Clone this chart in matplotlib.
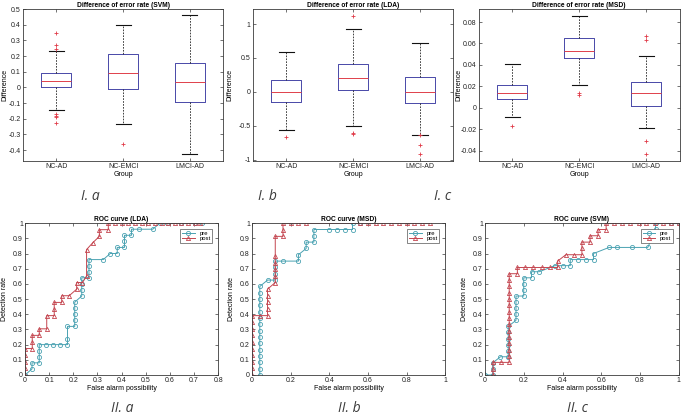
import matplotlib
matplotlib.use("Agg")
import matplotlib.pyplot as plt
import numpy as np
import matplotlib.ticker as mticker

plt.rcParams['font.family'] = ['Liberation Sans', 'DejaVu Sans']
plt.rcParams['axes.unicode_minus'] = False

groups = ["NC-AD", "NC-EMCI", "LMCI-AD"]

# box statistics
svm_q1 = [0.0, -0.01, -0.09]
svm_med = [0.04, 0.095, 0.035]
svm_q3 = [0.09, 0.215, 0.155]
svm_lo = [-0.145, -0.235, -0.425]
svm_hi = [0.235, 0.40, 0.46]
svm_fliers = [[0.35, 0.27, 0.245, -0.17, -0.18, -0.19, -0.23], [-0.36], []]

lda_q1 = [-0.15, 0.02, -0.16]
lda_med = [0.0, 0.21, 0.0]
lda_q3 = [0.175, 0.41, 0.22]
lda_lo = [-0.56, -0.51, -0.63]
lda_hi = [0.59, 0.93, 0.72]
lda_fliers = [[-0.66], [1.12, -0.60, -0.62], [-0.64, -0.78, -0.91]]

msd_q1 = [0.008, 0.046, 0.002]
msd_med = [0.014, 0.053, 0.014]
msd_q3 = [0.021, 0.065, 0.024]
msd_lo = [-0.009, 0.021, -0.019]
msd_hi = [0.041, 0.086, 0.048]
msd_fliers = [[-0.017], [0.014, 0.012], [0.067, 0.063, -0.031, -0.043]]

# ROC points
lda_pre_fpr = [0, .029, .029, .059, .059, .059, .059, .088, .118, .147, .176, .176, .176, .206, .206, .206, .206, .206,
               .235, .235, .235, .235, .265, .265, .265, .265, .324, .353, .382, .382, .412, .412, .412, .441, .441,
               .471, .529, .559, .588, .647, .706, .735]
lda_pre_tpr = [0, .04, .08, .08, .12, .16, .20, .20, .20, .20, .20, .24, .32, .32, .36, .40, .44, .48,
               .52, .56, .60, .64, .64, .68, .72, .76, .76, .80, .80, .84, .84, .88, .92, .92, .96,
               .96, .96, 1, 1, 1, 1, 1]
lda_post_fpr = [0, 0, 0, 0, 0, .030, .030, .030, .059, .059, .090, .090, .121, .121, .121, .152, .152, .183,
                .214, .214, .238, .255, .255, .280, .308, .308, .345, .345, .373, .400, .428, .455, .483, .510,
                .538, .566, .593, .621, .648, .676, .703, .724]
lda_post_tpr = [0, .043, .087, .130, .174, .174, .217, .261, .261, .304, .304, .391, .391, .435, .478, .478, .522, .522,
                .565, .609, .609, .652, .826, .870, .913, .957, .957, 1, 1, 1, 1, 1, 1, 1,
                1, 1, 1, 1, 1, 1, 1, 1]

msd_pre_fpr = [.04, .04, .04, .04, .04, .04, .04, .04, .04, .04, .04, .04, .04, .04, .04, .08, .12, .12, .12, .12,
               .16, .24, .24, .28, .28, .32, .32, .32, .40, .44, .48, .52, .52, .56]
msd_pre_tpr = [0, .042, .083, .125, .167, .208, .25, .292, .333, .375, .417, .458, .5, .542, .583, .625, .625, .667,
               .708, .75, .75, .75, .792, .833, .875, .875, .917, .958, .958, .958, .958, .958, 1, 1]
msd_post_fpr = [0, 0, 0, 0, 0, 0, 0, 0, 0, 0, .04, .08, .08, .08, .08, .08, .12, .12, .12, .12, .12, .12, .16, .16,
                .16, .20, .24, .28, .56, .60, .64, .68, .72, .76, .80, .84, .88, .92]
msd_post_tpr = [0, .043, .087, .130, .174, .217, .261, .304, .348, .391, .391, .391, .435, .478, .522, .565, .609,
                .652, .696, .739, .783, .913, .913, .957, 1, 1, 1, 1, 1, 1, 1, 1, 1, 1, 1, 1, 1, 1]

svm_pre_fpr = [0, .04, .04, .04, .08, .12, .12, .12, .12, .12, .12, .16, .16, .16, .16, .16, .20, .20, .20, .20,
               .24, .24, .28, .36, .40, .44, .44, .48, .52, .56, .56, .64, .68, .76, .84, .88, .88, .96, 1]
svm_pre_tpr = [0, 0, .04, .08, .12, .12, .16, .20, .24, .28, .32, .36, .40, .44, .48, .52, .52, .56, .60, .64,
               .64, .68, .68, .72, .72, .72, .76, .76, .76, .76, .80, .84, .84, .84, .84, .96, 1, 1, 1]
svm_post_fpr = [.042, .042, .042, .083, .125, .125, .125, .125, .125, .125, .125, .125, .125, .125, .125, .125,
                .125, .125, .125, .167, .167, .208, .25, .292, .333, .375, .375, .417, .458, .5, .5, .5, .542,
                .542, .583, .583, .625, .625, .667, .708, .75, .792, .833, .875, .917, .958, 1]
svm_post_tpr = [0, .042, .083, .083, .083, .125, .167, .208, .25, .292, .333, .375, .417, .458, .5, .542,
                .583, .625, .667, .667, .708, .708, .708, .708, .708, .708, .75, .792, .792, .792, .833, .875, .875,
                .917, .917, .958, .958, 1, 1, 1, 1, 1, 1, 1, 1, 1, 1]

PRE_COLOR = "#4aa2b2"
POST_COLOR = "#c4454f"
FRAME = "#3a3a3a"


def style_axis(ax):
    for s in ax.spines.values():
        s.set_color(FRAME)
        s.set_linewidth(0.6)
    ax.tick_params(direction='in', length=2, width=0.5, labelsize=5, pad=1.5,
                   top=True, right=True, colors=FRAME, labelcolor="#222222")
    fmt = mticker.FuncFormatter(lambda v, p: "%g" % round(v, 4))
    ax.yaxis.set_major_formatter(fmt)
    ax.xaxis.set_major_formatter(fmt)


'''
draw one MATLAB-like box plot from the statistics lists
'''
def draw_box(rect, title, q1, med, q3, lo, hi, fliers, ylim, yticks, label_x):
    ax = fig.add_axes(rect)
    stats = []
    for i in range(len(groups)):
        stats.append(dict(label=groups[i], q1=q1[i], med=med[i], q3=q3[i],
                          whislo=lo[i], whishi=hi[i], fliers=fliers[i]))
    ax.bxp(stats, positions=[1, 2, 3], widths=0.45,
           boxprops=dict(color="#4848a8", linewidth=0.7),
           medianprops=dict(color="#e0404a", linewidth=0.7),
           whiskerprops=dict(color="#222222", linestyle=(0, (2, 1.5)), linewidth=0.6),
           capprops=dict(color="#111111", linewidth=0.8),
           flierprops=dict(marker='+', markeredgecolor="#e03a48", markersize=3,
                           markeredgewidth=0.6, linestyle='none'))
    ax.set_xlim(0.5, 3.5)
    ax.set_ylim(*ylim)
    ax.set_yticks(yticks)
    style_axis(ax)
    ax.set_xticks([1, 2, 3])
    ax.set_xticklabels(groups)
    ax.set_title(title, fontsize=4.8, fontweight='bold', pad=1.5)
    ax.set_ylabel("Difference", fontsize=5)
    ax.yaxis.set_label_coords(label_x, 0.5)
    ax.set_xlabel("Group", fontsize=5, labelpad=1)
    return ax


'''
draw pre / post ROC curves
'''
def draw_roc(rect, title, pre_x, pre_y, post_x, post_y, xmax, xticks):
    ax = fig.add_axes(rect)
    ax.plot(pre_x, pre_y, color=PRE_COLOR, marker='o', markersize=3, markerfacecolor='none',
            markeredgewidth=0.6, linewidth=0.7, label="pre")
    ax.plot(post_x, post_y, color=POST_COLOR, marker='^', markersize=3, markerfacecolor='none',
            markeredgewidth=0.6, linewidth=0.7, label="post")
    ax.set_xlim(0, xmax)
    ax.set_ylim(0, 1)
    ax.set_xticks(xticks)
    ax.set_yticks(np.arange(0, 11) / 10)
    style_axis(ax)
    ax.set_title(title, fontsize=4.8, fontweight='bold', pad=1.5)
    ax.set_xlabel("False alarm possibility", fontsize=5, labelpad=1)
    ax.set_ylabel("Detection rate", fontsize=5)
    ax.yaxis.set_label_coords(-0.088, 0.5)
    leg = ax.legend(loc='upper right', fontsize=4.2, borderaxespad=1.0, handlelength=2.2,
                    labelspacing=0.1, borderpad=0.3, fancybox=False, framealpha=1)
    leg.get_frame().set_edgecolor("#555555")
    leg.get_frame().set_linewidth(0.5)
    return ax


fig = plt.figure(figsize=(6.85, 4.16), dpi=100)

draw_box([0.0336, 0.613, 0.292, 0.365], "Difference of error rate (SVM)",
         svm_q1, svm_med, svm_q3, svm_lo, svm_hi, svm_fliers,
         (-0.47, 0.5), np.arange(-4, 6) / 10, -0.075)
draw_box([0.369, 0.613, 0.293, 0.365], "Difference of error rate (LDA)",
         lda_q1, lda_med, lda_q3, lda_lo, lda_hi, lda_fliers,
         (-1.02, 1.22), [-1, -0.5, 0, 0.5, 1], -0.095)
draw_box([0.699, 0.613, 0.293, 0.365], "Difference of error rate (MSD)",
         msd_q1, msd_med, msd_q3, msd_lo, msd_hi, msd_fliers,
         (-0.0497, 0.092), np.arange(-2, 5) * 0.02, -0.08)

draw_roc([0.0365, 0.0986, 0.282, 0.365], "ROC curve (LDA)",
         lda_pre_fpr, lda_pre_tpr, lda_post_fpr, lda_post_tpr, 0.8, np.arange(0, 9) / 10)
draw_roc([0.368, 0.0986, 0.282, 0.365], "ROC curve (MSD)",
         msd_pre_fpr, msd_pre_tpr, msd_post_fpr, msd_post_tpr, 1.0, np.arange(0, 6) / 5)
draw_roc([0.708, 0.0986, 0.283, 0.365], "ROC curve (SVM)",
         svm_pre_fpr, svm_pre_tpr, svm_post_fpr, svm_post_tpr, 1.0, np.arange(0, 6) / 5)

# panel captions
captions = ["I. a", "I. b", "I. c", "II. a", "II. b", "II. c"]
cap_x = [90, 267, 443, 122, 349, 577]
cap_y = [197, 197, 197, 408, 408, 408]
for i in range(len(captions)):
    fig.text(cap_x[i] / 685, 1 - cap_y[i] / 416, captions[i], fontsize=10, style='italic',
             family=['Open Sans', 'DejaVu Sans'], color="#3c3c3c", ha='center', va='center')

fig.savefig("out.png", dpi=100)
